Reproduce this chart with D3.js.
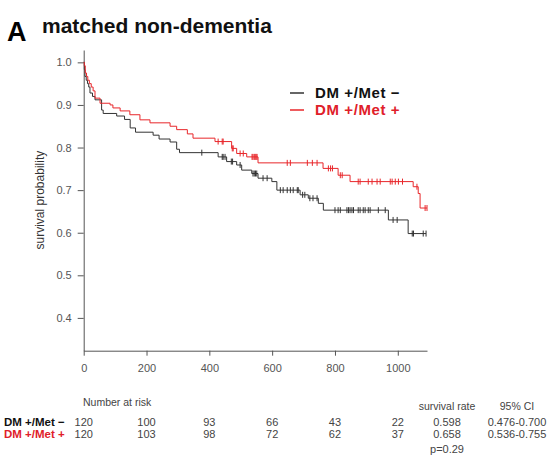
<!DOCTYPE html>
<html>
<head>
<meta charset="utf-8">
<script src="https://cdn.jsdelivr.net/npm/d3@7"></script>
<style>
  body { margin: 0; background: #fff; }
  text { font-family: "Liberation Sans", Arial, sans-serif; }
</style>
</head>
<body>
<div id="root"></div>
<script>
const width = 555;
const height = 456;

// tick labels
const timeTicks = [0, 200, 400, 600, 800, 1000];
const survTicks = [0.4, 0.5, 0.6, 0.7, 0.8, 0.9, 1.0];

// DM +/Met -  : event times and survival after each step
const negTimes = [0, 2, 4, 8, 12, 16, 20, 28, 36, 57, 62, 105, 130, 148, 165, 221, 240, 275, 296, 305,
  428, 455, 487, 503, 535, 555, 599, 615, 689, 715, 747, 763, 970, 1033, 1090];
const negSurv = [1.0, 0.983, 0.967, 0.958, 0.950, 0.942, 0.928, 0.920, 0.912, 0.888, 0.880, 0.874, 0.866, 0.846, 0.836, 0.829, 0.820, 0.813, 0.796, 0.788,
  0.778, 0.767, 0.759, 0.747, 0.739, 0.728, 0.720, 0.700, 0.689, 0.681, 0.669, 0.653, 0.630, 0.598, 0.598];
const negCensor = [376, 441, 444, 450, 470, 474, 498, 539, 543, 547, 551, 571, 584, 626, 635, 648, 658, 667, 680, 683,
  697, 704, 720, 730, 743, 800, 810, 817, 838, 843, 848, 854, 859, 874, 880, 890, 896, 906, 912, 938, 960, 985, 998,
  1046, 1050, 1081, 1090];

// DM +/Met +
const posTimes = [0, 2, 5, 9, 13, 18, 24, 30, 36, 52, 84, 93, 116, 147, 179, 211, 275, 296, 330, 348,
  418, 471, 487, 519, 555, 762, 810, 848, 1049, 1065, 1071, 1093];
const posSurv = [1.0, 0.992, 0.975, 0.967, 0.958, 0.950, 0.942, 0.933, 0.916, 0.904, 0.900, 0.893, 0.886, 0.877, 0.865, 0.858, 0.850, 0.842, 0.832, 0.822,
  0.814, 0.798, 0.786, 0.778, 0.764, 0.751, 0.735, 0.720, 0.708, 0.692, 0.658, 0.658];
const posCensor = [428, 441, 444, 473, 476, 498, 508, 536, 539, 543, 546, 549, 552, 648, 658, 712, 728, 743, 779, 786, 792,
  817, 823, 874, 880, 906, 918, 934, 944, 976, 982, 992, 1002, 1015, 1061, 1087, 1093];

// number at risk
const riskNeg = [120, 100, 93, 66, 43, 22];
const riskPos = [120, 103, 98, 72, 62, 37];

const groupNames = ["DM +/Met \u2212", "DM +/Met +"];
const survRates = ["0.598", "0.658"];
const ciRanges = ["0.476-0.700", "0.536-0.755"];
const pValue = "p=0.29";

const curveColors = ["#333333", "#e8262a"];
const labelColors = ["#111111", "#e0202a"];

const x = d3.scaleLinear().domain([0, 1093]).range([83.7, 427]);
const y = d3.scaleLinear().domain([0.323, 1.029]).range([350.7, 50]);

const svg = d3.select("#root")
    .append("svg")
    .attr("width", width)
    .attr("height", height);

// title
svg.append("text")
    .attr("x", 7).attr("y", 41)
    .attr("font-size", 27).attr("font-weight", "bold")
    .attr("fill", "#000")
    .text("A");
svg.append("text")
    .attr("x", 42).attr("y", 33)
    .attr("font-size", 21).attr("font-weight", "bold")
    .attr("fill", "#111")
    .text("matched non-dementia");

// axes
const yAxis = svg.append("g")
    .attr("transform", `translate(${x(0)},0)`)
    .call(d3.axisLeft(y).tickValues(survTicks).tickSize(6).tickSizeOuter(0).tickPadding(6)
        .tickFormat(d3.format(".1f")));
const xAxis = svg.append("g")
    .attr("transform", `translate(0,${y.range()[0]})`)
    .call(d3.axisBottom(x).tickValues(timeTicks).tickSize(5).tickSizeOuter(0).tickPadding(9)
        .tickFormat(d3.format("d")));

[yAxis, xAxis].forEach(ax => {
    ax.select(".domain").attr("stroke", "#555");
    ax.selectAll(".tick line").attr("stroke", "#555");
    ax.selectAll(".tick text").attr("fill", "#555").attr("font-size", 11)
        .attr("font-family", "'Liberation Sans', Arial, sans-serif");
});

svg.append("text")
    .attr("transform", `translate(44,${(y(1.0) + y(0.4)) / 2 + 10})rotate(-90)`)
    .attr("text-anchor", "middle")
    .attr("font-size", 12)
    .attr("fill", "#333")
    .text("survival probability");

// curves
const stepLine = d3.line()
    .x(d => x(d[0]))
    .y(d => y(d[1]))
    .curve(d3.curveStepAfter);

const survAt = (times, surv, t) => {
    const i = d3.bisectRight(times, t) - 1;
    return surv[Math.max(0, i)];
};

const groups = [
    { times: negTimes, surv: negSurv, censor: negCensor },
    { times: posTimes, surv: posSurv, censor: posCensor }
];

groups.forEach((g, gi) => {
    svg.append("path")
        .datum(d3.zip(g.times, g.surv))
        .attr("fill", "none")
        .attr("stroke", curveColors[gi])
        .attr("stroke-width", 1)
        .attr("d", stepLine);

    svg.append("g").selectAll("line")
        .data(g.censor)
        .enter().append("line")
        .attr("x1", d => x(d)).attr("x2", d => x(d))
        .attr("y1", d => y(survAt(g.times, g.surv, d)) - 3)
        .attr("y2", d => y(survAt(g.times, g.surv, d)) + 3)
        .attr("stroke", curveColors[gi])
        .attr("stroke-width", 1);
});

// legend
const legend = svg.append("g");
groupNames.forEach((name, i) => {
    const ly = 93 + i * 17;
    legend.append("line")
        .attr("x1", 290).attr("x2", 304)
        .attr("y1", ly).attr("y2", ly)
        .attr("stroke", curveColors[i]).attr("stroke-width", 1.5);
    legend.append("text")
        .attr("x", 315).attr("y", ly + 5)
        .attr("font-size", 15).attr("font-weight", "bold")
        .attr("letter-spacing", 0.6)
        .attr("fill", labelColors[i])
        .text(name);
});

// number at risk table
svg.append("text")
    .attr("x", 83).attr("y", 406)
    .attr("font-size", 10.5).attr("fill", "#444")
    .text("Number at risk");

const risks = [riskNeg, riskPos];
risks.forEach((row, i) => {
    const ry = 426 + i * 11.5;
    svg.append("text")
        .attr("x", 4).attr("y", ry)
        .attr("font-size", 11.5).attr("font-weight", "bold")
        .attr("fill", labelColors[i])
        .text(groupNames[i]);
    svg.append("g").selectAll("text")
        .data(row)
        .enter().append("text")
        .attr("x", (d, j) => x(timeTicks[j]))
        .attr("y", ry)
        .attr("text-anchor", "middle")
        .attr("font-size", 11).attr("fill", "#444")
        .text(d => d);
    svg.append("text")
        .attr("x", 447).attr("y", ry)
        .attr("text-anchor", "middle")
        .attr("font-size", 11).attr("fill", "#444")
        .text(survRates[i]);
    svg.append("text")
        .attr("x", 517).attr("y", ry)
        .attr("text-anchor", "middle")
        .attr("font-size", 11).attr("fill", "#444")
        .text(ciRanges[i]);
});

svg.append("text")
    .attr("x", 447).attr("y", 410)
    .attr("text-anchor", "middle")
    .attr("font-size", 10.5).attr("fill", "#444")
    .text("survival rate");
svg.append("text")
    .attr("x", 517).attr("y", 410)
    .attr("text-anchor", "middle")
    .attr("font-size", 10.5).attr("fill", "#444")
    .text("95% CI");
svg.append("text")
    .attr("x", 447).attr("y", 453)
    .attr("text-anchor", "middle")
    .attr("font-size", 11).attr("fill", "#444")
    .text(pValue);
</script>
</body>
</html>
